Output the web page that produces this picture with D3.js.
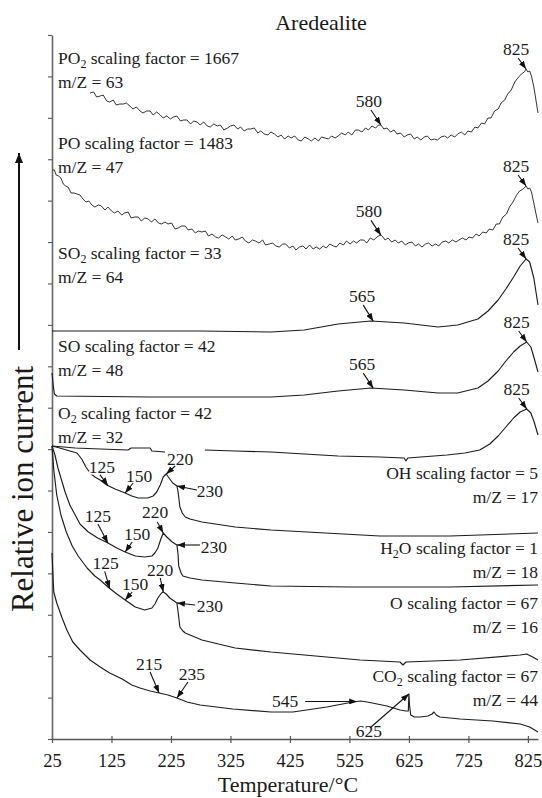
<!DOCTYPE html>
<html>
<head>
<meta charset="utf-8">
<script src="https://cdnjs.cloudflare.com/ajax/libs/d3/7.8.5/d3.min.js"></script>
<style>
  body { margin: 0; background: #fff; }
  svg, svg text { font-family: "Liberation Serif", "DejaVu Serif", "Noto Serif", serif; }
  svg text { fill: #1a1a1a; }
</style>
</head>
<body>
<div id="chart"></div>
<script>
// temperature (°C) vs relative ion current (arbitrary units)
var xTicks = [25, 125, 225, 325, 425, 525, 625, 725, 825];

var seriesNames = ["PO2", "PO", "SO2", "SO", "O2", "OH", "H2O", "O", "CO2"];
var scalingFactors = [1667, 1483, 33, 42, 42, 5, 1, 67, 67];
var massCharge = [63, 47, 64, 48, 32, 17, 18, 16, 44];

var po2Data = [
    [89,64.6],[95,64.7],[100,64.2],[106,64.3],[111,64.4],[117,63.8],[122,63.7],[128,63.9],[133,63.4],[139,63.5],
    [145,63.5],[150,63.6],[156,63.3],[161,63.0],[167,63.2],[173,62.8],[178,62.6],[184,62.8],[190,62.8],[195,62.4],
    [201,62.7],[207,62.4],[212,62.1],[218,62.3],[224,62.0],[229,62.2],[235,62.3],[241,61.8],[246,61.9],[252,61.9],
    [258,61.5],[263,61.8],[269,61.7],[274,61.4],[280,61.7],[286,61.3],[291,61.2],[297,61.5],[303,61.3],[308,61.4],
    [314,60.9],[320,61.1],[325,61.3],[331,61.4],[337,61.0],[342,61.2],[348,60.8],[354,61.0],[359,61.0],[365,61.1],
    [371,60.6],[376,60.8],[382,60.5],[388,60.4],[393,60.7],[399,60.5],[405,60.2],[410,60.4],[416,60.0],[422,60.3],
    [427,60.1],[433,60.3],[439,59.9],[444,59.8],[450,60.2],[456,60.0],[461,59.8],[467,60.1],[473,59.8],[478,60.2],
    [484,60.1],[490,60.0],[495,60.3],[501,60.1],[506,60.3],[512,60.6],[518,60.4],[523,60.7],[529,60.4],[535,60.9],
    [540,60.9],[546,60.7],[552,61.1],[557,60.9],[563,61.3],[569,61.1],[574,61.4],[578,61.4],[583,61.0],[588,61.1],
    [594,60.7],[600,60.9],[605,60.5],[611,60.6],[617,60.2],[622,60.4],[628,60.5],[634,60.0],[639,60.2],[645,59.9],
    [651,60.2],[656,60.3],[662,59.9],[668,60.0],[673,59.9],[679,60.2],[685,60.3],[690,60.1],[696,60.4],[702,60.2],
    [707,60.5],[713,60.7],[719,60.4],[724,60.8],[730,60.7],[736,61.2],[741,61.1],[747,61.6],[752,61.5],[758,62.1],
    [763,62.1],[769,62.8],[775,63.0],[780,63.6],[786,63.9],[791,64.5],[797,64.9],[803,65.7],[808,66.1],[814,66.5],
    [819,66.7],[822,67.0],[825,66.7],[828,66.8],[831,66.3],[835,65.2],[838,64.1],[842,62.6]
];

var poData = [
    [26,56.9],[29,56.9],[32,56.4],[36,56.3],[40,56.1],[44,55.5],[48,55.3],[52,55.2],[57,54.6],[62,54.6],
    [67,54.5],[72,54.4],[77,54.0],[82,53.7],[87,53.8],[92,53.4],[97,53.2],[103,53.4],[108,53.3],[114,52.9],
    [119,53.2],[125,52.8],[130,52.6],[136,52.8],[142,52.4],[147,52.6],[153,52.7],[158,52.1],[164,52.2],[170,52.2],
    [175,51.8],[181,52.1],[187,52.0],[192,51.7],[198,52.0],[204,51.6],[209,51.5],[215,51.7],[220,51.5],[226,51.6],
    [232,51.0],[237,51.1],[243,51.3],[249,51.3],[254,50.9],[260,51.0],[266,50.6],[271,50.8],[277,50.7],[283,50.8],
    [288,50.3],[294,50.5],[300,50.2],[305,50.1],[311,50.4],[317,50.2],[322,50.0],[328,50.3],[333,49.9],[339,50.0],
    [345,50.2],[350,49.8],[356,49.6],[362,49.9],[367,49.8],[373,49.6],[379,49.9],[384,49.4],[390,49.5],[396,49.6],
    [401,49.3],[407,49.2],[413,49.5],[418,49.5],[424,49.1],[430,49.3],[435,48.9],[441,49.2],[447,49.3],[452,49.0],
    [458,49.4],[464,49.0],[469,49.2],[475,49.0],[481,49.3],[486,49.1],[492,49.5],[498,49.3],[503,49.2],[509,49.6],
    [515,49.4],[520,49.8],[526,49.5],[532,49.8],[537,49.6],[543,49.9],[549,49.9],[554,49.6],[560,50.1],[566,49.9],
    [571,50.2],[577,50.4],[580,50.3],[585,49.9],[590,50.1],[596,49.7],[602,49.9],[607,49.6],[613,49.8],[619,49.4],
    [624,49.6],[630,49.7],[636,49.3],[641,49.5],[647,49.2],[653,49.5],[658,49.6],[664,49.3],[670,49.5],[675,49.3],
    [681,49.7],[687,49.8],[692,49.6],[698,49.9],[704,49.7],[709,49.9],[715,50.1],[721,49.9],[726,50.2],[732,50.1],
    [738,50.5],[743,50.3],[749,50.7],[755,50.6],[760,51.0],[766,50.9],[772,51.5],[777,51.5],[783,52.2],[789,52.5],
    [794,53.2],[800,53.7],[806,54.4],[811,54.8],[817,55.0],[822,55.3],[825,55.0],[828,55.1],[831,54.7],[835,53.6],
    [838,52.7],[842,51.6]
];

var so2Data = [
    [25,40.8],[106,40.8],[190,40.8],[274,40.8],[393,40.7],[449,40.9],[506,41.5],[561,41.8],[617,41.6],[674,41.2],
    [707,41.4],[741,42.0],[758,42.8],[775,43.9],[788,45.0],[801,46.2],[812,47.3],[822,48.0],[828,47.7],[835,46.1],
    [842,43.4]
];

var soData = [
    [25,36.6],[27,35.4],[29,34.5],[33,34.3],[190,34.2],[393,34.2],[449,34.4],[506,34.8],[561,35.1],[617,34.9],
    [674,34.6],[707,34.6],[741,35.1],[758,35.8],[775,36.8],[788,37.8],[801,38.7],[812,39.3],[823,39.7],[830,39.2],
    [835,38.2],[842,36.7]
];

var o2Data = [
    [25,29.3],[64,29.1],[106,29.0],[153,28.9],[158,29.1],[190,29.1],[193,28.8],[215,28.7],[250,null],[282,28.9],
    [333,28.8],[393,28.7],[506,28.3],[576,28.2],[617,28.1],[620,27.8],[623,28.1],[689,28.4],[719,28.6],[744,28.9],
    [761,29.5],[775,30.3],[788,31.2],[801,32.1],[812,32.7],[823,33.0],[830,32.6],[835,31.8],[842,30.4]
];

var ohData = [
    [25,29.3],[38,29.1],[55,28.8],[67,28.6],[75,28.0],[82,27.2],[89,26.6],[97,26.2],[106,25.9],[117,25.4],
    [131,25.0],[148,24.6],[159,24.3],[170,24.1],[186,24.1],[195,24.3],[201,24.7],[207,25.4],[212,26.2],[217,26.5],
    [223,26.0],[228,25.6],[235,25.3],[237,24.7],[240,23.2],[244,22.6],[249,22.2],[257,22.0],[277,21.7],[333,21.2],
    [393,20.9],[576,20.3],[694,20.3],[842,20.6]
];

var h2oData = [
    [25,29.3],[30,28.4],[35,27.1],[42,25.7],[47,24.7],[55,23.4],[64,22.4],[72,21.5],[86,20.7],[102,20.1],
    [119,19.6],[134,19.1],[148,18.7],[165,18.3],[181,18.2],[193,18.3],[198,18.6],[203,19.1],[208,20.0],[212,20.6],
    [218,20.2],[227,19.7],[235,19.4],[237,18.4],[238,17.3],[242,16.6],[245,16.3],[257,16.1],[277,15.9],[333,15.6],
    [393,15.3],[526,15.2],[694,15.2],[842,15.4]
];

var oData = [
    [25,29.3],[28,26.9],[33,24.4],[40,22.4],[49,20.7],[59,19.3],[69,18.3],[84,17.1],[97,16.3],[106,15.9],
    [119,15.2],[134,14.5],[148,13.9],[165,13.2],[181,12.9],[193,13.1],[198,13.5],[203,14.1],[209,14.6],[212,14.7],
    [217,14.5],[223,14.1],[235,13.6],[237,12.7],[240,11.2],[245,10.8],[249,10.6],[257,10.4],[277,9.9],[333,9.1],
    [393,8.7],[543,7.9],[610,7.7],[615,7.4],[620,7.7],[711,7.9],[812,8.4],[823,8.5],[833,8.2],[842,7.9]
];

var co2Data = [
    [25,18.6],[27,15.9],[28,14.7],[33,13.6],[42,12.1],[50,10.9],[60,9.7],[72,8.9],[89,7.9],[106,7.2],
    [122,6.6],[143,6.0],[159,5.4],[173,5.1],[190,4.8],[205,4.6],[220,4.4],[235,4.1],[252,3.7],[274,3.4],
    [329,3.0],[393,2.7],[430,2.7],[487,3.2],[531,3.7],[544,3.8],[555,3.7],[588,3.3],[610,2.9],[620,2.8],
    [624,2.8],[625,4.5],[626,3.4],[628,2.4],[634,2.2],[644,2.2],[657,2.3],[664,2.5],[667,2.7],[671,2.4],
    [677,2.2],[711,2.0],[766,1.8],[812,1.5],[828,1.2],[842,0.7]
];

// peak annotations: which trace, label, temperature the arrow points at
var noteSeries = ["PO2","PO2","PO","PO","SO2","SO2","SO","SO","O2",
    "OH","OH","OH","OH","H2O","H2O","H2O","H2O","O","O","O","O","CO2","CO2","CO2","CO2"];
var noteText = ["825","580","825","580","825","565","825","565","825",
    "125","150","220","230","125","150","220","230","125","150","220","230","215","235","545","625"];
var noteTemp = [822,578,822,578,822,565,823,565,823,
    119,148,217,235,119,148,212,235,122,148,212,235,205,235,538,625];

var traces = [po2Data, poData, so2Data, soData, o2Data, ohData, h2oData, oData, co2Data];

// ---------------------------------------------------------------
var width = 542,
    height = 798,
    margin = {top: 35, right: 4, bottom: 59, left: 52};

var svg = d3.select("#chart")
    .append("svg")
    .attr("width", width)
    .attr("height", height);

var x = d3.scaleLinear()
    .domain([25, 842])
    .range([margin.left, width - margin.right]);

var y = d3.scaleLinear()
    .domain([0, 70.4])
    .range([height - margin.bottom, margin.top]);

var yTicks = d3.range(18).map(function(i) { return i * 70.4 / 17; });

var defs = svg.append("defs");
defs.append("marker")
    .attr("id", "head")
    .attr("viewBox", "0 0 8 6")
    .attr("refX", 8).attr("refY", 3)
    .attr("markerWidth", 8).attr("markerHeight", 6)
    .attr("markerUnits", "userSpaceOnUse")
    .attr("orient", "auto")
    .append("path").attr("d", "M0,0L8,3L0,6Z").attr("fill", "#111");
defs.append("marker")
    .attr("id", "bighead")
    .attr("viewBox", "0 0 10 8")
    .attr("refX", 10).attr("refY", 4)
    .attr("markerWidth", 10).attr("markerHeight", 8)
    .attr("markerUnits", "userSpaceOnUse")
    .attr("orient", "auto")
    .append("path").attr("d", "M0,0L10,4L0,8Z").attr("fill", "#111");

// axes
var xAxis = svg.append("g")
    .attr("transform", "translate(0," + (height - margin.bottom) + ")")
    .call(d3.axisBottom(x).tickValues(xTicks).tickSize(4).tickSizeOuter(0));
xAxis.attr("font-family", null);
xAxis.select(".domain").attr("stroke", "#555").attr("stroke-width", 1.3);
xAxis.selectAll(".tick line").attr("y1", -3).attr("stroke", "#555").attr("stroke-width", 1.2);
xAxis.selectAll(".tick text")
    .attr("y", 28).attr("dy", null)
    .attr("fill", "#1a1a1a")
    .style("font-size", "18.5px");

var yAxis = svg.append("g")
    .attr("transform", "translate(" + margin.left + ",0)")
    .call(d3.axisLeft(y).tickValues(yTicks).tickSize(4).tickSizeOuter(0).tickFormat(""));
yAxis.select(".domain").attr("stroke", "#666").attr("stroke-width", 1.6);
yAxis.selectAll(".tick line").attr("stroke", "#555").attr("stroke-width", 1.1);

// traces
var line = d3.line()
    .defined(function(d) { return d[1] != null; })
    .x(function(d) { return x(d[0]); })
    .y(function(d) { return y(d[1]); });

svg.append("g")
    .selectAll("path")
    .data(traces)
    .enter()
    .append("path")
    .attr("d", line)
    .attr("fill", "none")
    .attr("stroke", "#1c1c1c")
    .attr("stroke-width", function(d, i) { return i < 2 ? 0.9 : 1.15; })
    .attr("stroke-linejoin", "round");

// trace labels, formula digits as subscripts
function formulaText(sel, name, rest) {
    var sub = false;
    name.split(/(\d)/).filter(function(s) { return s; }).forEach(function(part) {
        if (/\d/.test(part)) {
            sel.append("tspan").attr("dy", 4).style("font-size", "12px").text(part);
            sub = true;
        } else {
            sel.append("tspan").attr("dy", sub ? -4 : 0).text(part);
            sub = false;
        }
    });
    sel.append("tspan").attr("dy", sub ? -4 : 0).text(rest);
}

// label placement: [x, baseline of first line, anchor]
var labelPos = [
    [58, 64, "start"], [58, 149, "start"], [58, 259, "start"], [58, 352, "start"], [58, 419, "start"],
    [538, 479, "end"], [538, 554, "end"], [538, 609, "end"], [538, 682, "end"]
];

var labels = svg.append("g").style("font-size", "17.5px");
seriesNames.forEach(function(name, i) {
    var p = labelPos[i];
    var t1 = labels.append("text").attr("x", p[0]).attr("y", p[1]).attr("text-anchor", p[2]);
    formulaText(t1, name, " scaling factor = " + scalingFactors[i]);
    labels.append("text")
        .attr("x", p[0]).attr("y", p[1] + 23.5)
        .attr("text-anchor", p[2])
        .text("m/Z = " + massCharge[i]);
});

// annotations
function valueAt(data, t) {
    var pts = data.filter(function(d) { return d[1] != null; });
    for (var k = 1; k < pts.length; k++) {
        if (pts[k][0] >= t) {
            var a = pts[k - 1], b = pts[k];
            return a[1] + (b[1] - a[1]) * (t - a[0]) / (b[0] - a[0]);
        }
    }
    return pts[pts.length - 1][1];
}

// offsets from arrow tip: text dx, dy, arrow start dx, dy
var noteLayout = [
    [-10,-14,-8,-11], [-12,-18,-10,-15], [-10,-14,-8,-11], [-12,-18,-10,-15], [-10,-14,-8,-11],
    [-11,-19,-10,-16], [-10,-14,-8,-11], [-11,-18,-10,-15], [-10,-14,-8,-11],
    [-6,-13,-8,-11], [14,-11,8,-10], [14,-9,9,-8], [33,11,20,4],
    [-10,-21,-10,-19], [12,-12,7,-10], [-8,-15,-6,-11], [37,8,23,0],
    [-4,-19,-5,-17], [10,-10,7,-8], [-3,-16,-3,-14], [33,9,18,2],
    [-10,-23,-9,-21], [15,-18,11,-16], [-72,6,-52,0], [-40,43,-39,34]
];

var notes = noteText.map(function(txt, i) {
    var data = traces[seriesNames.indexOf(noteSeries[i])];
    var tx = x(noteTemp[i]), ty = y(valueAt(data, noteTemp[i]));
    return {text: txt, tx: tx, ty: ty, lay: noteLayout[i]};
});

svg.append("g")
    .style("font-size", "17.5px")
    .selectAll("text")
    .data(notes)
    .enter()
    .append("text")
    .attr("x", function(d) { return d.tx + d.lay[0]; })
    .attr("y", function(d) { return d.ty + d.lay[1]; })
    .attr("text-anchor", "middle")
    .attr("stroke", "#fff")
    .attr("stroke-width", 3)
    .attr("paint-order", "stroke")
    .text(function(d) { return d.text; });

svg.append("g")
    .selectAll("line")
    .data(notes)
    .enter()
    .append("line")
    .attr("x1", function(d) { return d.tx + d.lay[2]; })
    .attr("y1", function(d) { return d.ty + d.lay[3]; })
    .attr("x2", function(d) { return d.tx; })
    .attr("y2", function(d) { return d.ty; })
    .attr("stroke", "#111")
    .attr("stroke-width", 1.1)
    .attr("marker-end", "url(#head)");

// titles
svg.append("text")
    .attr("x", 321).attr("y", 30)
    .attr("text-anchor", "middle")
    .style("font-size", "22px")
    .text("Aredealite");

svg.append("text")
    .attr("x", 288).attr("y", 792)
    .attr("text-anchor", "middle")
    .style("font-size", "22px")
    .text("Temperature/°C");

svg.append("text")
    .attr("transform", "translate(33,489) rotate(-90)")
    .attr("text-anchor", "middle")
    .style("font-size", "31px")
    .text("Relative ion current");

svg.append("line")
    .attr("x1", 19).attr("y1", 350)
    .attr("x2", 19).attr("y2", 153)
    .attr("stroke", "#111")
    .attr("stroke-width", 2)
    .attr("marker-end", "url(#bighead)");
</script>
</body>
</html>
